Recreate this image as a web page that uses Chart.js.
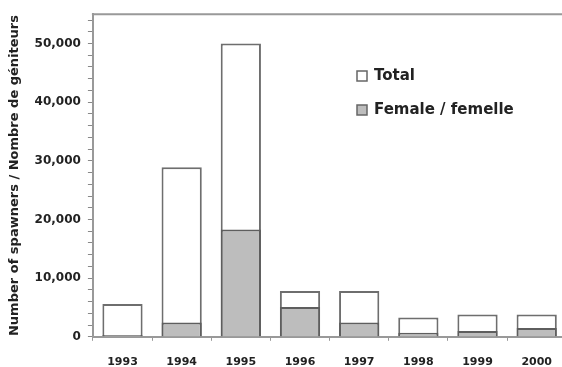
<!DOCTYPE html>
<html>
<head>
<meta charset="utf-8">
<script src="https://cdn.jsdelivr.net/npm/chart.js@4"></script>
<style>
  html, body { margin: 0; padding: 0; background: #fff; overflow: hidden; }
  #wrap { width: 567px; height: 384px; }
</style>
</head>
<body>
<div id="wrap"><canvas id="myChart"></canvas></div>
<script>
const years = ['1993', '1994', '1995', '1996', '1997', '1998', '1999', '2000'];
const totalSpawners = [5600, 28900, 50000, 7800, 7800, 3300, 3800, 3800];
const femaleSpawners = [300, 2450, 18300, 5100, 2450, 700, 1000, 1500];
const seriesNames = ['Total', 'Female / femelle'];
const yTitle = 'Number of spawners / Nombre de géniteurs';
// minor tick every 2,000, labelled every 10,000
const yTicks = [0, 2000, 4000, 6000, 8000, 10000, 12000, 14000, 16000, 18000, 20000,
  22000, 24000, 26000, 28000, 30000, 32000, 34000, 36000, 38000, 40000,
  42000, 44000, 46000, 48000, 50000, 52000, 54000];
const yMax = 55000;

const FONT = '"DejaVu Sans", sans-serif';
const ctx = document.getElementById('myChart');

// legend drawn inside the plot, plus the top frame line
const extras = {
  id: 'extras',
  afterDraw(chart) {
    const c = chart.ctx, a = chart.chartArea;
    c.save();
    c.strokeStyle = '#999';
    c.lineWidth = 2;
    c.beginPath();
    c.moveTo(a.left - 1, a.top);
    c.lineTo(a.right, a.top);
    c.stroke();

    const fills = ['#ffffff', '#bdbdbd'];
    c.font = 'bold 15px ' + FONT;
    c.textBaseline = 'middle';
    seriesNames.forEach((name, i) => {
      const y = 76 + i * 34;
      c.fillStyle = fills[i];
      c.fillRect(357, y - 5, 10, 10);
      c.strokeStyle = '#666';
      c.lineWidth = 1.5;
      c.strokeRect(357, y - 5, 10, 10);
      c.fillStyle = '#222';
      c.fillText(name, 374, y);
    });
    c.restore();
  }
};

new Chart(ctx, {
  type: 'bar',
  data: {
    labels: years,
    datasets: [
      {
        label: seriesNames[0],
        data: totalSpawners,
        backgroundColor: '#ffffff',
        borderColor: '#6e6e6e',
        borderWidth: 2,
        order: 2
      },
      {
        label: seriesNames[1],
        data: femaleSpawners,
        backgroundColor: '#bdbdbd',
        borderColor: '#5e5e5e',
        borderWidth: 2,
        order: 1
      }
    ]
  },
  options: {
    responsive: true,
    maintainAspectRatio: false,
    animation: false,
    layout: { padding: { top: 12, right: 0, bottom: 0, left: 7 } },
    datasets: { bar: { categoryPercentage: 1, barPercentage: 0.68, grouped: false } },
    plugins: {
      legend: { display: false },
      tooltip: { enabled: false }
    },
    scales: {
      x: {
        grid: { drawOnChartArea: false, tickLength: 4, color: '#999' },
        border: { color: '#999', width: 2 },
        ticks: {
          color: '#222',
          padding: 15,
          font: { family: FONT, size: 11, weight: 'bold' }
        }
      },
      y: {
        min: 0,
        max: yMax,
        afterBuildTicks: scale => { scale.ticks = yTicks.map(v => ({ value: v })); },
        grid: { drawOnChartArea: false, tickLength: 5, color: '#888' },
        border: { color: '#999', width: 2 },
        ticks: {
          autoSkip: false,
          color: '#222',
          padding: 7,
          font: { family: FONT, size: 12, weight: 'bold' },
          callback: v => (v % 10000 === 0 ? v.toLocaleString('en-US') : '')
        },
        title: {
          display: true,
          text: yTitle,
          color: '#222',
          padding: { top: 0, bottom: 5 },
          font: { family: FONT, size: 13, weight: 'bold' }
        }
      }
    }
  },
  plugins: [extras]
});
</script>
</body>
</html>
